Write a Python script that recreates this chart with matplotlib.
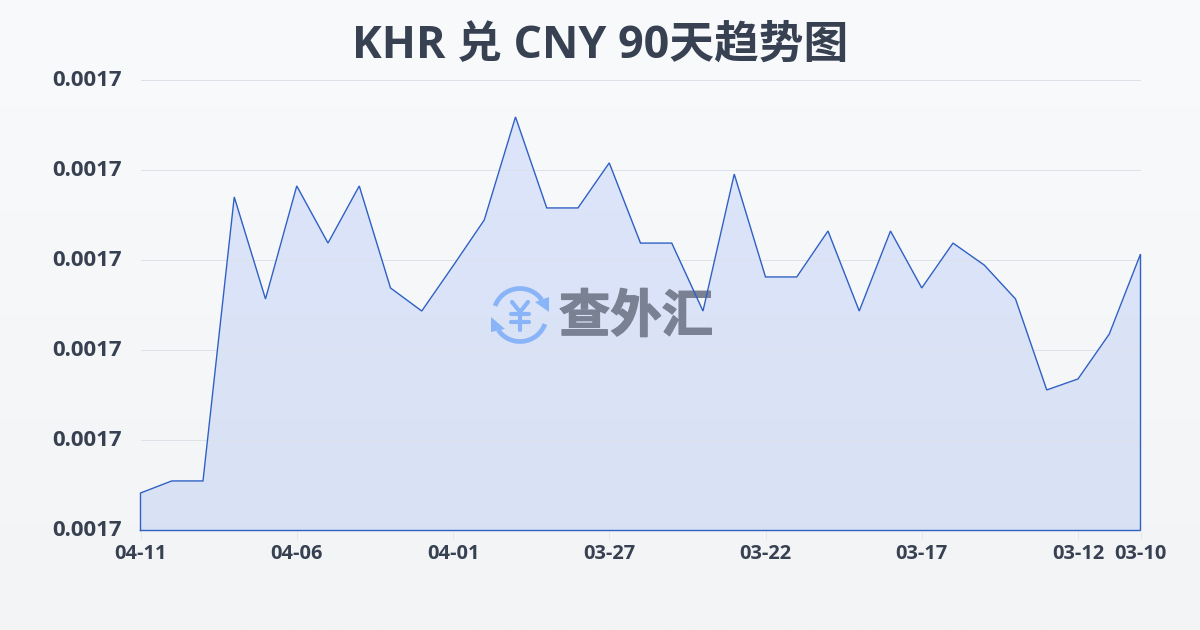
import matplotlib
matplotlib.use('Agg')
import numpy as np
import matplotlib.pyplot as plt
import matplotlib.patheffects as pe
from matplotlib.patches import Arc, Polygon
from matplotlib.lines import Line2D
from matplotlib.transforms import Affine2D, ScaledTranslation

plt.rcParams['font.family'] = ['Open Sans', 'Noto Sans CJK SC', 'DejaVu Sans']

dates = ['04-11','04-10','04-09','04-08','04-07','04-06','04-05','04-04','04-03','04-02','04-01',
         '03-31','03-30','03-29','03-28','03-27','03-26','03-25','03-24','03-23','03-22',
         '03-21','03-20','03-19','03-18','03-17','03-16','03-15','03-14','03-13','03-12','03-11','03-10']
rates = [0.00170208,0.00170275,0.00170275,0.00171851,0.00171285,0.00171912,0.00171595,0.00171912,
         0.00171346,0.00171218,0.00171468,0.00171723,0.00172295,0.00171790,0.00171790,0.00172040,
         0.00171595,0.00171595,0.00171218,0.00171978,0.00171407,0.00171407,0.00171662,0.00171218,
         0.00171662,0.00171346,0.00171595,0.00171473,0.00171285,0.00170780,0.00170841,0.00171090,0.00171534]
shown_dates = ['04-11','04-06','04-01','03-27','03-22','03-17','03-12','03-10']
y_ticks = [0.0017,0.001705,0.00171,0.001715,0.00172,0.001725]
title = 'KHR 兑 CNY 90天趋势图'
brand = '查外汇'

W, H = 1200, 630
fig = plt.figure(figsize=(12, 6.3), dpi=100)
px = Affine2D().scale(1/W, -1/H).translate(0, 1) + fig.transFigure

bg = fig.add_axes([0, 0, 1, 1], zorder=0)
bg.axis('off')
c0, c1 = np.array([0xf9,0xfa,0xfc])/255, np.array([0xf3,0xf4,0xf6])/255
t = np.linspace(0, 1, 256)[:, None, None]
bg.imshow(c0*(1-t)+c1*t, aspect='auto', extent=[0, 1, 0, 1])

ax = fig.add_axes([140.5/W, 1-530.5/H, 1000/W, 450.5/H], zorder=1)
ax.patch.set_alpha(0)
x = np.arange(len(dates))
ax.fill_between(x, rates, y_ticks[0], color='#2563eb', alpha=0.13, lw=0, zorder=1)
ax.plot(np.r_[x[0], x, x[-1], x[0]], np.r_[y_ticks[0], rates, y_ticks[0], y_ticks[0]],
        color='#2f60c4', lw=1.0, zorder=4, solid_joinstyle='miter', clip_on=False)
ax.set_xlim(0, len(dates)-1)
ax.set_ylim(y_ticks[0], y_ticks[-1])
for s in ax.spines.values():
    s.set_visible(False)
ax.set_yticks(y_ticks)
ax.set_yticklabels([f'{v:.4f}' for v in y_ticks], fontsize=16, fontweight='bold', color='#374151')
ax.set_xticks([dates.index(d) for d in shown_dates])
ax.set_xticklabels(shown_dates, fontsize=14.4, fontweight='bold', color='#374151')
ax.tick_params(axis='y', length=0, pad=13.5)
ax.tick_params(axis='x', length=6.8, width=0.7, color='#e5e7eb', pad=3)
up = ScaledTranslation(0, 1.5/72, fig.dpi_scale_trans)
for lbl in ax.get_yticklabels():
    lbl.set_transform(lbl.get_transform() + up)
ax.grid(axis='y', color='#dde1e8', lw=0.7, zorder=2)
ax.set_axisbelow(False)
for gl in ax.get_ygridlines():
    gl.set_zorder(2)

# watermark logo, under the line
blue = '#8ab4f8'
logo = dict(transform=px, zorder=3, clip_on=False)
ax.add_patch(Arc((520, 315), 53, 53, theta1=200, theta2=325, color=blue, lw=3.4, **logo))
ax.add_patch(Arc((520, 315), 53, 53, theta1=20, theta2=145, color=blue, lw=3.4, **logo))
ax.add_patch(Polygon([(535,302),(549,297),(549,312)], closed=True, color=blue, lw=0, **logo))
ax.add_patch(Polygon([(491,317),(505,329),(491,332)], closed=True, color=blue, lw=0, **logo))
for xs, ys in [((512,520,528),(302,312,302)), ((520,520),(312,330)), ((511,529),(314,314)), ((511,529),(322,322))]:
    ax.add_line(Line2D(xs, ys, color=blue, lw=3.0, solid_capstyle='round', solid_joinstyle='round', **logo))
ax.text(636, 319, brand, fontsize=37, fontweight='bold', color='#798192', ha='center', va='center',
        path_effects=[pe.withStroke(linewidth=1.0, foreground='#798192')], **logo)

fig.text(600/W, 1-46.5/H, title, fontsize=32.2, fontweight='bold', color='#374151', ha='center', va='center')
fig.savefig('out.png', dpi=100)
